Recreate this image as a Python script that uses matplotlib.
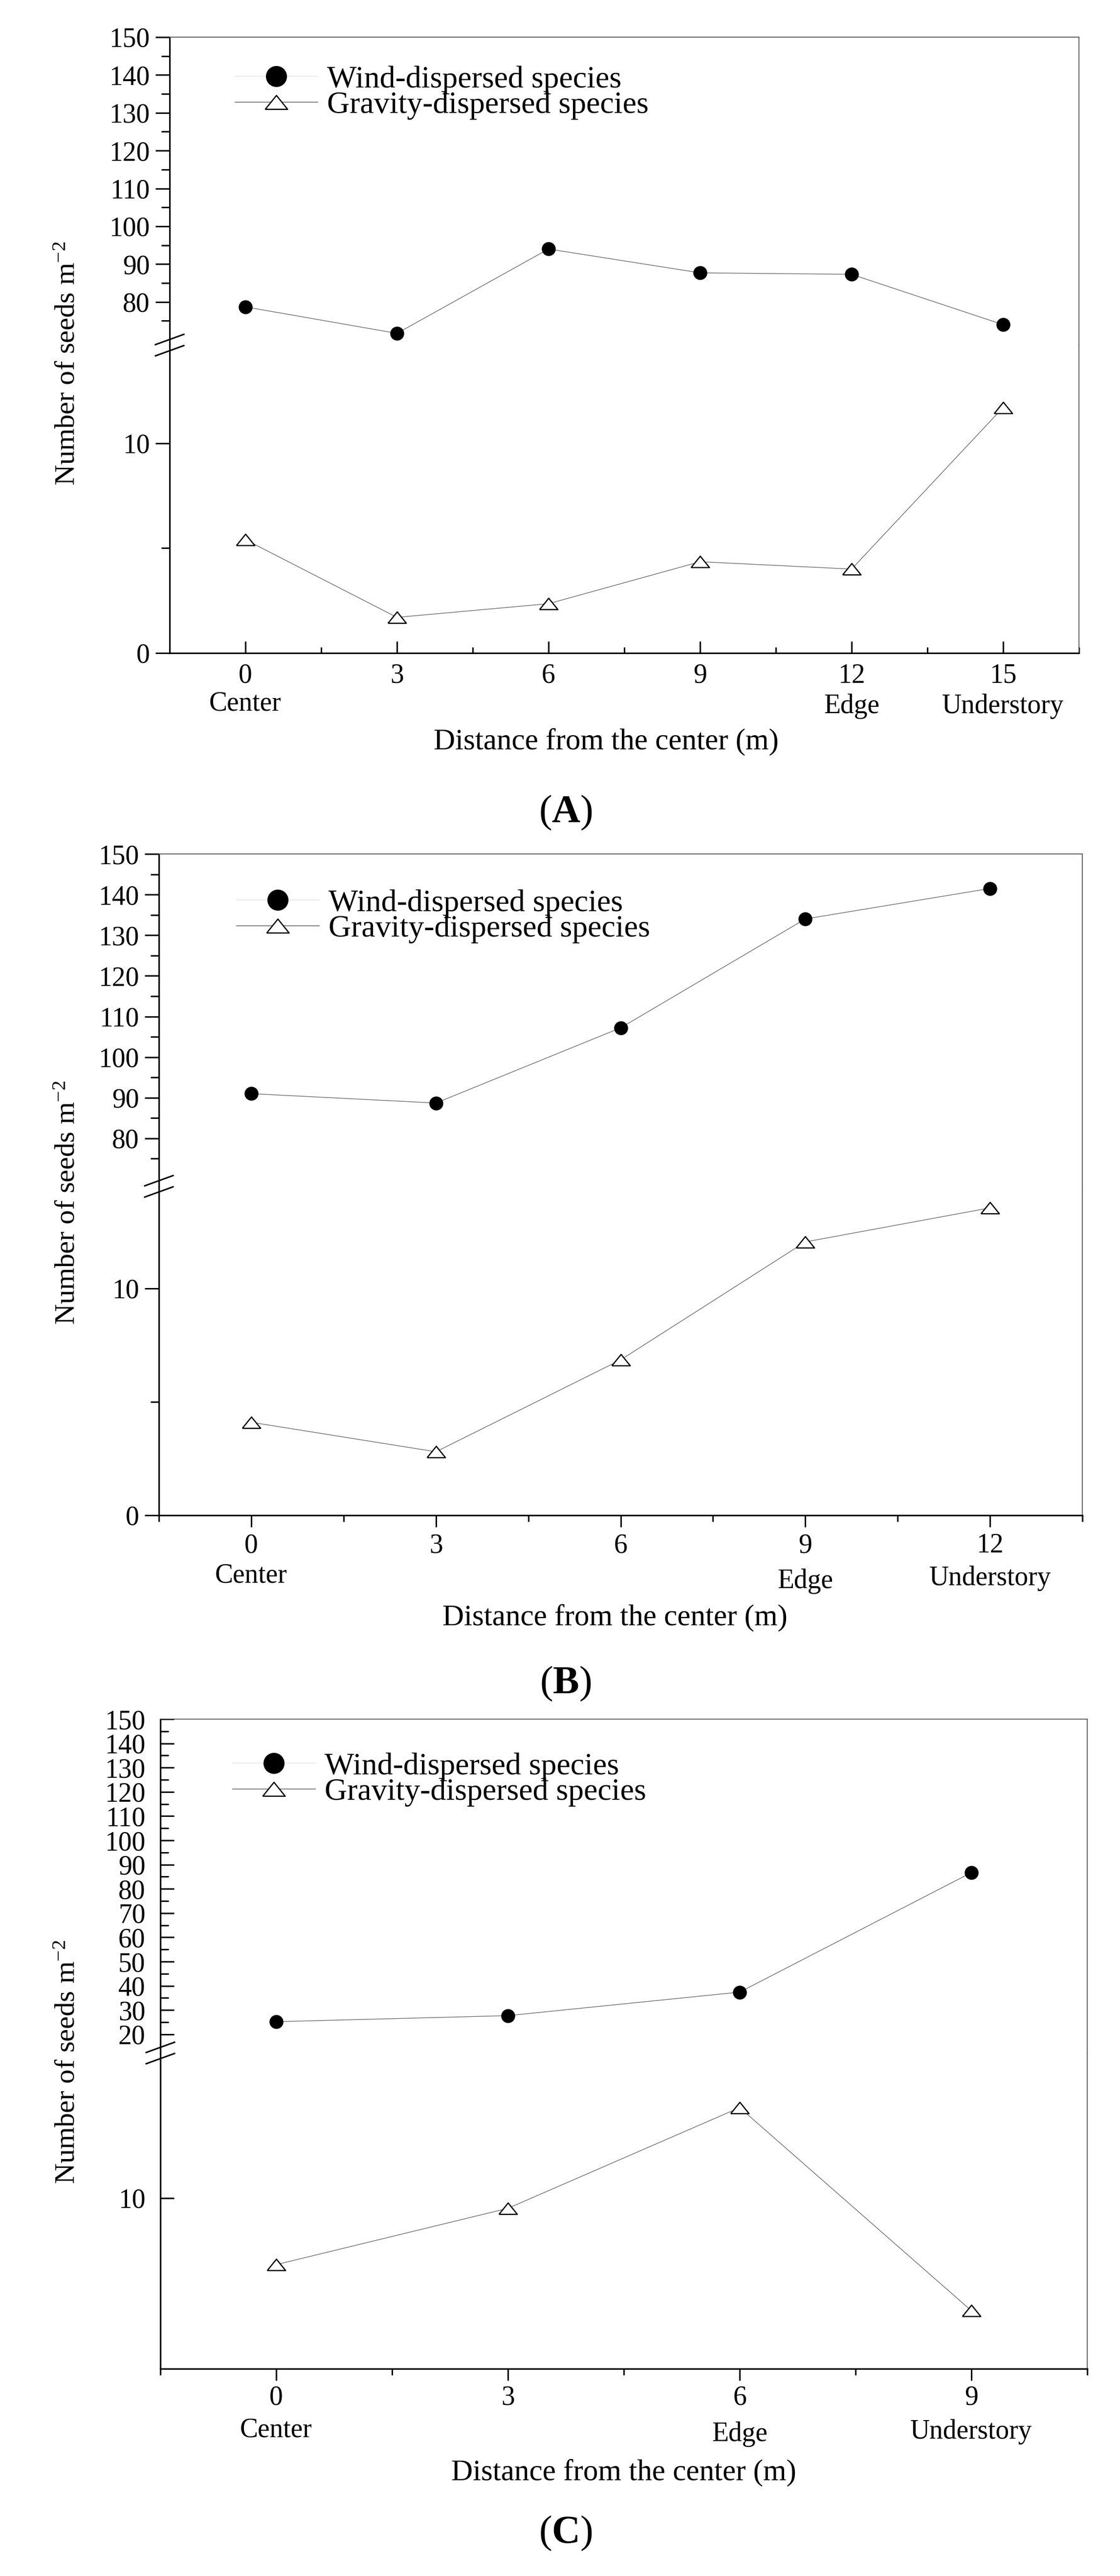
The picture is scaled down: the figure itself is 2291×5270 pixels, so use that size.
import numpy as np
import matplotlib
matplotlib.use('Agg')
import matplotlib.pyplot as plt
from matplotlib.lines import Line2D
from matplotlib.ticker import FixedLocator

plt.rcParams['font.family'] = ['Liberation Serif', 'DejaVu Serif']
plt.rcParams['mathtext.fontset'] = 'custom'
plt.rcParams['mathtext.rm'] = 'Liberation Serif'
plt.rcParams['mathtext.it'] = 'Liberation Serif:italic'
plt.rcParams['mathtext.bf'] = 'Liberation Serif:bold'

W, H = 2291, 5270
DPI = 100
PT = 72.0 / DPI  # points per pixel

# ---- data (seeds per m2) ----
dist_a = [0, 3, 6, 9, 12, 15]
wind_a = [78.7, 71.7, 94.0, 87.7, 87.3, 74.0]
grav_a = [5.4, 1.7, 2.35, 4.35, 4.0, 11.7]
site_a = ['Center', '', '', '', 'Edge', 'Understory']

dist_b = [0, 3, 6, 9, 12]
wind_b = [91.0, 88.7, 107.2, 134.0, 141.5]
grav_b = [4.1, 2.8, 6.85, 12.05, 13.55]
site_b = ['Center', '', '', 'Edge', 'Understory']

dist_c = [0, 3, 6, 9]
wind_c = [25.2, 27.7, 37.4, 86.7]
grav_c = [6.1, 9.4, 15.3, 3.4]
site_c = ['Center', '', 'Edge', 'Understory']

legend_labels = ['Wind-dispersed species', 'Gravity-dispersed species']
xlabel = 'Distance from the center (m)'
ylabel = 'Number of seeds m$^{-2}$'

TRI = [(-1, -0.62), (1, -0.62), (0, 0.62), (-1, -0.62)]
LINE_C = '#5a5a5a'
TICK_FS = 40


def fx(px):
    return px / W


def fy(py):
    return 1 - py / H


fig = plt.figure(figsize=(W / DPI, H / DPI), dpi=DPI)


def style_axis(ax, xdir, ydir, xpad):
    for s in ['left', 'bottom']:
        ax.spines[s].set_linewidth(2.3)
        ax.spines[s].set_color('black')
    for s in ['top', 'right']:
        ax.spines[s].set_linewidth(1.3)
        ax.spines[s].set_color('#555555')
    ylen = 21 if ydir == 'out' else 20
    ax.tick_params(axis='y', which='major', direction=ydir, length=ylen, width=2.2,
                   labelsize=TICK_FS, pad=8 if ydir == 'out' else 22, right=False)
    ax.tick_params(axis='y', which='minor', direction=ydir, length=12, width=2.2,
                   right=False)
    ax.tick_params(axis='x', which='major', direction=xdir, length=17, width=2.2,
                   labelsize=TICK_FS, pad=xpad, top=False)
    ax.tick_params(axis='x', which='minor', direction=xdir, length=9, width=2.2,
                   top=False)


def panel(dist, wind, grav, sites, box, junc, up_lim, low_lim, up_major, up_minor,
          low_major, low_minor, xlim, xdir, ydir, xpad, leg_dx, leg_dy, site_off,
          xl_pos, tag, tag_off):
    left, right, top, bottom = box
    w = fx(right) - fx(left)
    ax_up = fig.add_axes([fx(left), fy(junc), w, fy(top) - fy(junc)])
    ax_lo = fig.add_axes([fx(left), fy(bottom), w, fy(junc) - fy(bottom)])

    ax_up.plot(dist, wind, color=LINE_C, lw=0.9, zorder=2)
    ax_up.plot(dist, wind, ls='none', marker='o', ms=19.5, mfc='black',
               mec='black', zorder=3)
    ax_lo.plot(dist, grav, color=LINE_C, lw=0.9, zorder=2)
    ax_lo.plot(dist, grav, ls='none', marker=TRI, ms=27, mfc='white',
               mec='black', mew=1.8, zorder=3)

    for ax in (ax_up, ax_lo):
        ax.set_xlim(*xlim)
        style_axis(ax, xdir, ydir, xpad)
    ax_up.set_ylim(*up_lim)
    ax_lo.set_ylim(*low_lim)
    ax_up.spines['bottom'].set_visible(False)
    ax_lo.spines['top'].set_visible(False)
    ax_up.tick_params(axis='x', which='both', bottom=False, labelbottom=False)

    ax_up.yaxis.set_major_locator(FixedLocator(up_major))
    ax_up.yaxis.set_minor_locator(FixedLocator(up_minor))
    ax_lo.yaxis.set_major_locator(FixedLocator(low_major))
    ax_lo.yaxis.set_minor_locator(FixedLocator(low_minor))
    ax_lo.xaxis.set_major_locator(FixedLocator(dist))
    ax_lo.xaxis.set_minor_locator(FixedLocator(np.arange(xlim[0], xlim[1] + 0.1, 3)))

    # site names under the distance labels
    for d, s in zip(dist, sites):
        if s:
            ax_lo.annotate(s, xy=(d, 0), xycoords=ax_lo.get_xaxis_transform(),
                           xytext=(0, -site_off[s] * PT), textcoords='offset points',
                           ha='center', va='center', fontsize=40)
    xl_x, xl_off = xl_pos
    ax_lo.annotate(xlabel, xy=(xl_x, 0), xycoords='axes fraction',
                   xytext=(0, -xl_off * PT), textcoords='offset points',
                   ha='center', va='center', fontsize=44)
    fig.text(0.505, fy(bottom + tag_off), '(' + r'$\mathbf{' + tag + '}$' + ')',
             ha='center', va='center', fontsize=58)

    # y label
    mid = (top + bottom) / 2 + 37
    fig.text(fx(165), fy(mid), ylabel, rotation=90, ha='right', va='center',
             fontsize=42)

    # break marks on the left spine
    for off in (-11.5, 11.5):
        yc = junc + off
        fig.add_artist(Line2D([fx(left - 29), fx(left + 29)],
                              [fy(yc + 10.5), fy(yc - 10.5)],
                              color='black', lw=2.2))

    # legend
    handles = [
        Line2D([], [], color='#e6e6e6', lw=1.2, marker='o', ms=30,
               mfc='black', mec='black'),
        Line2D([], [], color='#777777', lw=1.3, marker=TRI, ms=33,
               mfc='white', mec='black', mew=1.8),
    ]
    ax_up.legend(handles, legend_labels, loc='upper left',
                 bbox_to_anchor=(fx(left + leg_dx), fy(top + leg_dy)),
                 bbox_transform=fig.transFigure, frameon=False, borderpad=0,
                 handlelength=2.64, handletextpad=0.31, labelspacing=-0.1,
                 fontsize=46)


panel(dist_a, wind_a, grav_a, site_a, (347, 2207, 76, 1336), 706,
      (68.6, 150), (0, 14.67), range(80, 151, 10), range(75, 150, 10),
      [0, 10], [5], (-1.5, 16.5), 'in', 'out', 15, 102, 26,
      {'Center': 103, 'Edge': 109, 'Understory': 109}, (0.48, 182), 'A', 327)

panel(dist_b, wind_b, grav_b, site_b, (325, 2214, 1747, 3100), 2427,
      (68.2, 150), (0, 14.5), range(80, 151, 10), range(75, 150, 10),
      [0, 10], [5], (-1.5, 13.5), 'out', 'out', 9, 127, 40,
      {'Center': 124, 'Edge': 135, 'Understory': 129}, (0.494, 210), 'B', 345)

panel(dist_c, wind_c, grav_c, site_c, (328, 2224, 3517, 4846), 4200,
      (12.3, 150), (0, 18.5), range(20, 151, 10), range(25, 150, 10),
      [10], [], (-1.5, 10.5), 'out', 'in', 7, 116, 36,
      {'Center': 125, 'Edge': 134, 'Understory': 129}, (0.5, 213), 'C', 337)

fig.savefig('out.png', dpi=DPI, facecolor='white')
